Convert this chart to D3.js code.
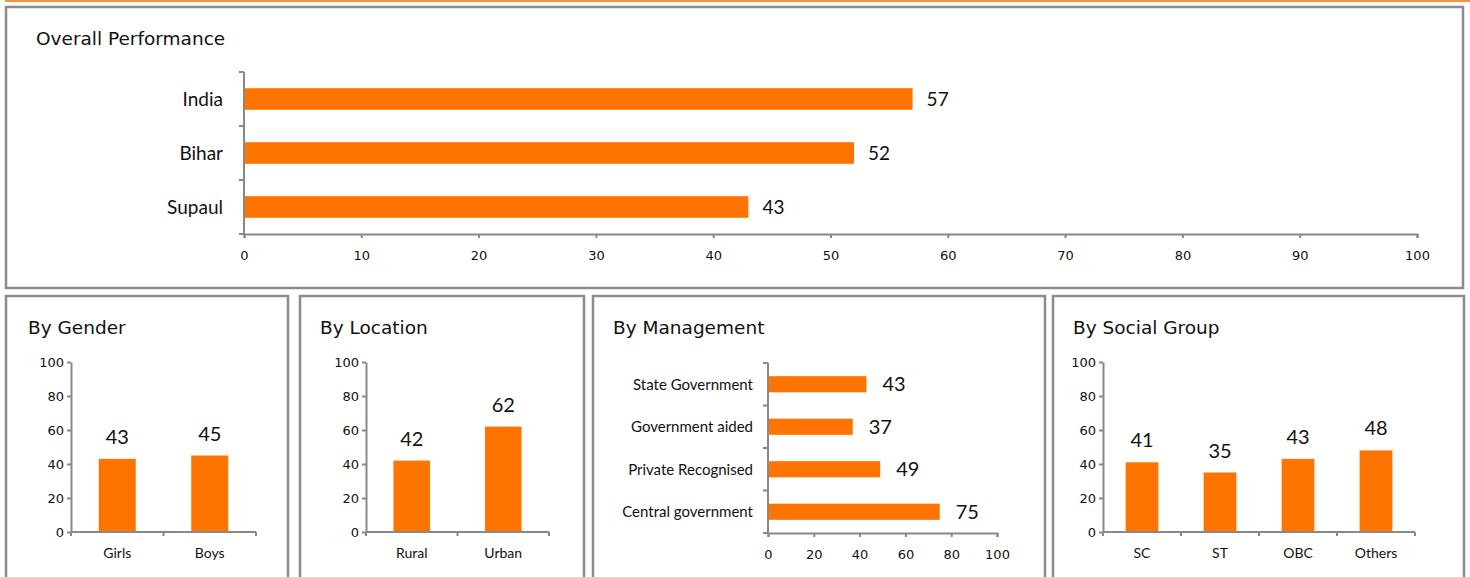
<!DOCTYPE html>
<html>
<head>
<title>Performance</title>
<script src="https://d3js.org/d3.v7.min.js"></script>
<style>
  body { margin: 0; background: #fff; }
  .title { font-family: "DejaVu Sans", sans-serif; font-size: 18.5px; fill: #111; }
  .axis path, .axis line { stroke: #888; stroke-width: 2px; }
  .axis text { fill: #111; }
  .val { font-family: Lato, sans-serif; fill: #111; }
</style>
</head>
<body>
<svg id="chart" width="1470" height="577"></svg>
<script>
// overall
var overallCats = ["India", "Bihar", "Supaul"];
var overallVals = [57, 52, 43];
var overallTicks = [0, 10, 20, 30, 40, 50, 60, 70, 80, 90, 100];

// gender
var genderCats = ["Girls", "Boys"];
var genderVals = [43, 45];

// location
var locationCats = ["Rural", "Urban"];
var locationVals = [42, 62];

// management
var mgmtCats = ["State Government", "Government aided", "Private Recognised", "Central government"];
var mgmtVals = [43, 37, 49, 75];

// social group
var socialCats = ["SC", "ST", "OBC", "Others"];
var socialVals = [41, 35, 43, 48];

var pctTicks = [0, 20, 40, 60, 80, 100];

var orange = "#ff7300";
var svg = d3.select("#chart");

// top orange rule
svg.append("rect").attr("x", 5).attr("y", 0).attr("width", 1465).attr("height", 2).attr("fill", "#f7923f");

function panel(x, y, w, h, title, tx, ty) {
  svg.append("rect")
    .attr("x", x).attr("y", y).attr("width", w).attr("height", h)
    .attr("fill", "#fff").attr("stroke", "#8c8c8c").attr("stroke-width", 2.5);
  svg.append("text").attr("class", "title").attr("x", tx).attr("y", ty).text(title);
}

// horizontal bar chart
function hbar(cats, vals, ticks, o) {
  var g = svg.append("g");
  var x = d3.scaleLinear().domain([0, 100]).range([o.x0, o.x1]);
  var y = d3.scaleBand().domain(cats).range([o.y0, o.y1]).paddingInner(o.pad).paddingOuter(o.pad / 2);

  g.selectAll("rect.bar").data(vals).enter().append("rect")
    .attr("class", "bar")
    .attr("x", x(0))
    .attr("y", function(d, i) { return y(cats[i]); })
    .attr("width", function(d) { return x(d) - x(0); })
    .attr("height", y.bandwidth())
    .attr("fill", orange);

  g.selectAll("text.val").data(vals).enter().append("text")
    .attr("class", "val")
    .attr("x", function(d) { return x(d) + o.vgap; })
    .attr("y", function(d, i) { return y(cats[i]) + y.bandwidth() / 2; })
    .attr("dy", "0.36em")
    .style("font-size", o.vsize + "px")
    .text(function(d) { return d; });

  var xa = g.append("g").attr("class", "axis")
    .attr("transform", "translate(0," + o.y1 + ")")
    .call(d3.axisBottom(x).tickValues(ticks).tickSize(4).tickSizeOuter(4));
  xa.selectAll("text").attr("dy", "1.45em")
    .style("font-family", "'DejaVu Sans', sans-serif").style("font-size", o.tsize + "px");

  // category axis with ticks at band edges
  var ya = g.append("g").attr("class", "axis");
  ya.append("line").attr("x1", o.x0).attr("x2", o.x0).attr("y1", o.y0).attr("y2", o.y1);
  var edges = d3.range(cats.length + 1).map(function(i) { return o.y0 + i * (o.y1 - o.y0) / cats.length; });
  ya.selectAll("line.tk").data(edges).enter().append("line")
    .attr("class", "tk")
    .attr("x1", o.x0 - 5).attr("x2", o.x0).attr("y1", function(d) { return d; }).attr("y2", function(d) { return d; });
  ya.selectAll("text").data(cats).enter().append("text")
    .attr("x", o.lx)
    .attr("y", function(d) { return y(d) + y.bandwidth() / 2; })
    .attr("dy", "0.36em")
    .attr("text-anchor", "end")
    .style("font-family", "Lato, sans-serif")
    .style("font-size", o.csize + "px")
    .text(function(d) { return d; });
}

// vertical bar chart
function vbar(cats, vals, o) {
  var g = svg.append("g");
  var y = d3.scaleLinear().domain([0, 100]).range([o.y1, o.y0]);
  var x = d3.scaleBand().domain(cats).range([o.x0, o.x1]).paddingInner(o.pad).paddingOuter(o.pad / 2);

  g.selectAll("rect.bar").data(vals).enter().append("rect")
    .attr("class", "bar")
    .attr("x", function(d, i) { return x(cats[i]); })
    .attr("y", function(d) { return y(d); })
    .attr("width", x.bandwidth())
    .attr("height", function(d) { return y(0) - y(d); })
    .attr("fill", orange);

  g.selectAll("text.val").data(vals).enter().append("text")
    .attr("class", "val")
    .attr("x", function(d, i) { return x(cats[i]) + x.bandwidth() / 2; })
    .attr("y", function(d) { return y(d) - 15; })
    .attr("text-anchor", "middle")
    .style("font-size", "20px")
    .text(function(d) { return d; });

  var ya = g.append("g").attr("class", "axis")
    .attr("transform", "translate(" + o.x0 + ",0)")
    .call(d3.axisLeft(y).tickValues(pctTicks).tickSize(4).tickSizeOuter(0));
  ya.selectAll("text")
    .style("font-family", "'DejaVu Sans', sans-serif").style("font-size", "13px");

  var xa = g.append("g").attr("class", "axis");
  xa.append("line").attr("x1", o.x0).attr("x2", o.x1).attr("y1", o.y1).attr("y2", o.y1);
  var edges = d3.range(cats.length + 1).map(function(i) { return o.x0 + i * (o.x1 - o.x0) / cats.length; });
  xa.selectAll("line.tk").data(edges).enter().append("line")
    .attr("class", "tk")
    .attr("y1", o.y1).attr("y2", o.y1 + 4).attr("x1", function(d) { return d; }).attr("x2", function(d) { return d; });
  xa.selectAll("text").data(cats).enter().append("text")
    .attr("x", function(d) { return x(d) + x.bandwidth() / 2; })
    .attr("y", o.y1 + 26)
    .attr("text-anchor", "middle")
    .style("font-family", "Lato, sans-serif")
    .style("font-size", "14px")
    .text(function(d) { return d; });
}

panel(6, 7, 1457, 281, "Overall Performance", 36, 45);
panel(6, 296, 282, 290, "By Gender", 28, 334);
panel(300, 296, 284, 290, "By Location", 320, 334);
panel(593, 296, 452, 290, "By Management", 613, 334);
panel(1053, 296, 411, 290, "By Social Group", 1073, 334);

hbar(overallCats, overallVals, overallTicks, {
  x0: 244, x1: 1417, y0: 72, y1: 234, pad: 0.6, vgap: 14, vsize: 19, lx: 223, csize: 19, tsize: 13
});

vbar(genderCats, genderVals, { x0: 71, x1: 256, y0: 362, y1: 532, pad: 0.6 });
vbar(locationCats, locationVals, { x0: 366, x1: 549, y0: 362, y1: 532, pad: 0.6 });
vbar(socialCats, socialVals, { x0: 1103, x1: 1415, y0: 362, y1: 532, pad: 0.58 });

hbar(mgmtCats, mgmtVals, pctTicks, {
  x0: 768, x1: 997, y0: 363, y1: 533, pad: 0.62, vgap: 16, vsize: 20, lx: 753, csize: 15, tsize: 13
});
</script>
</body>
</html>
